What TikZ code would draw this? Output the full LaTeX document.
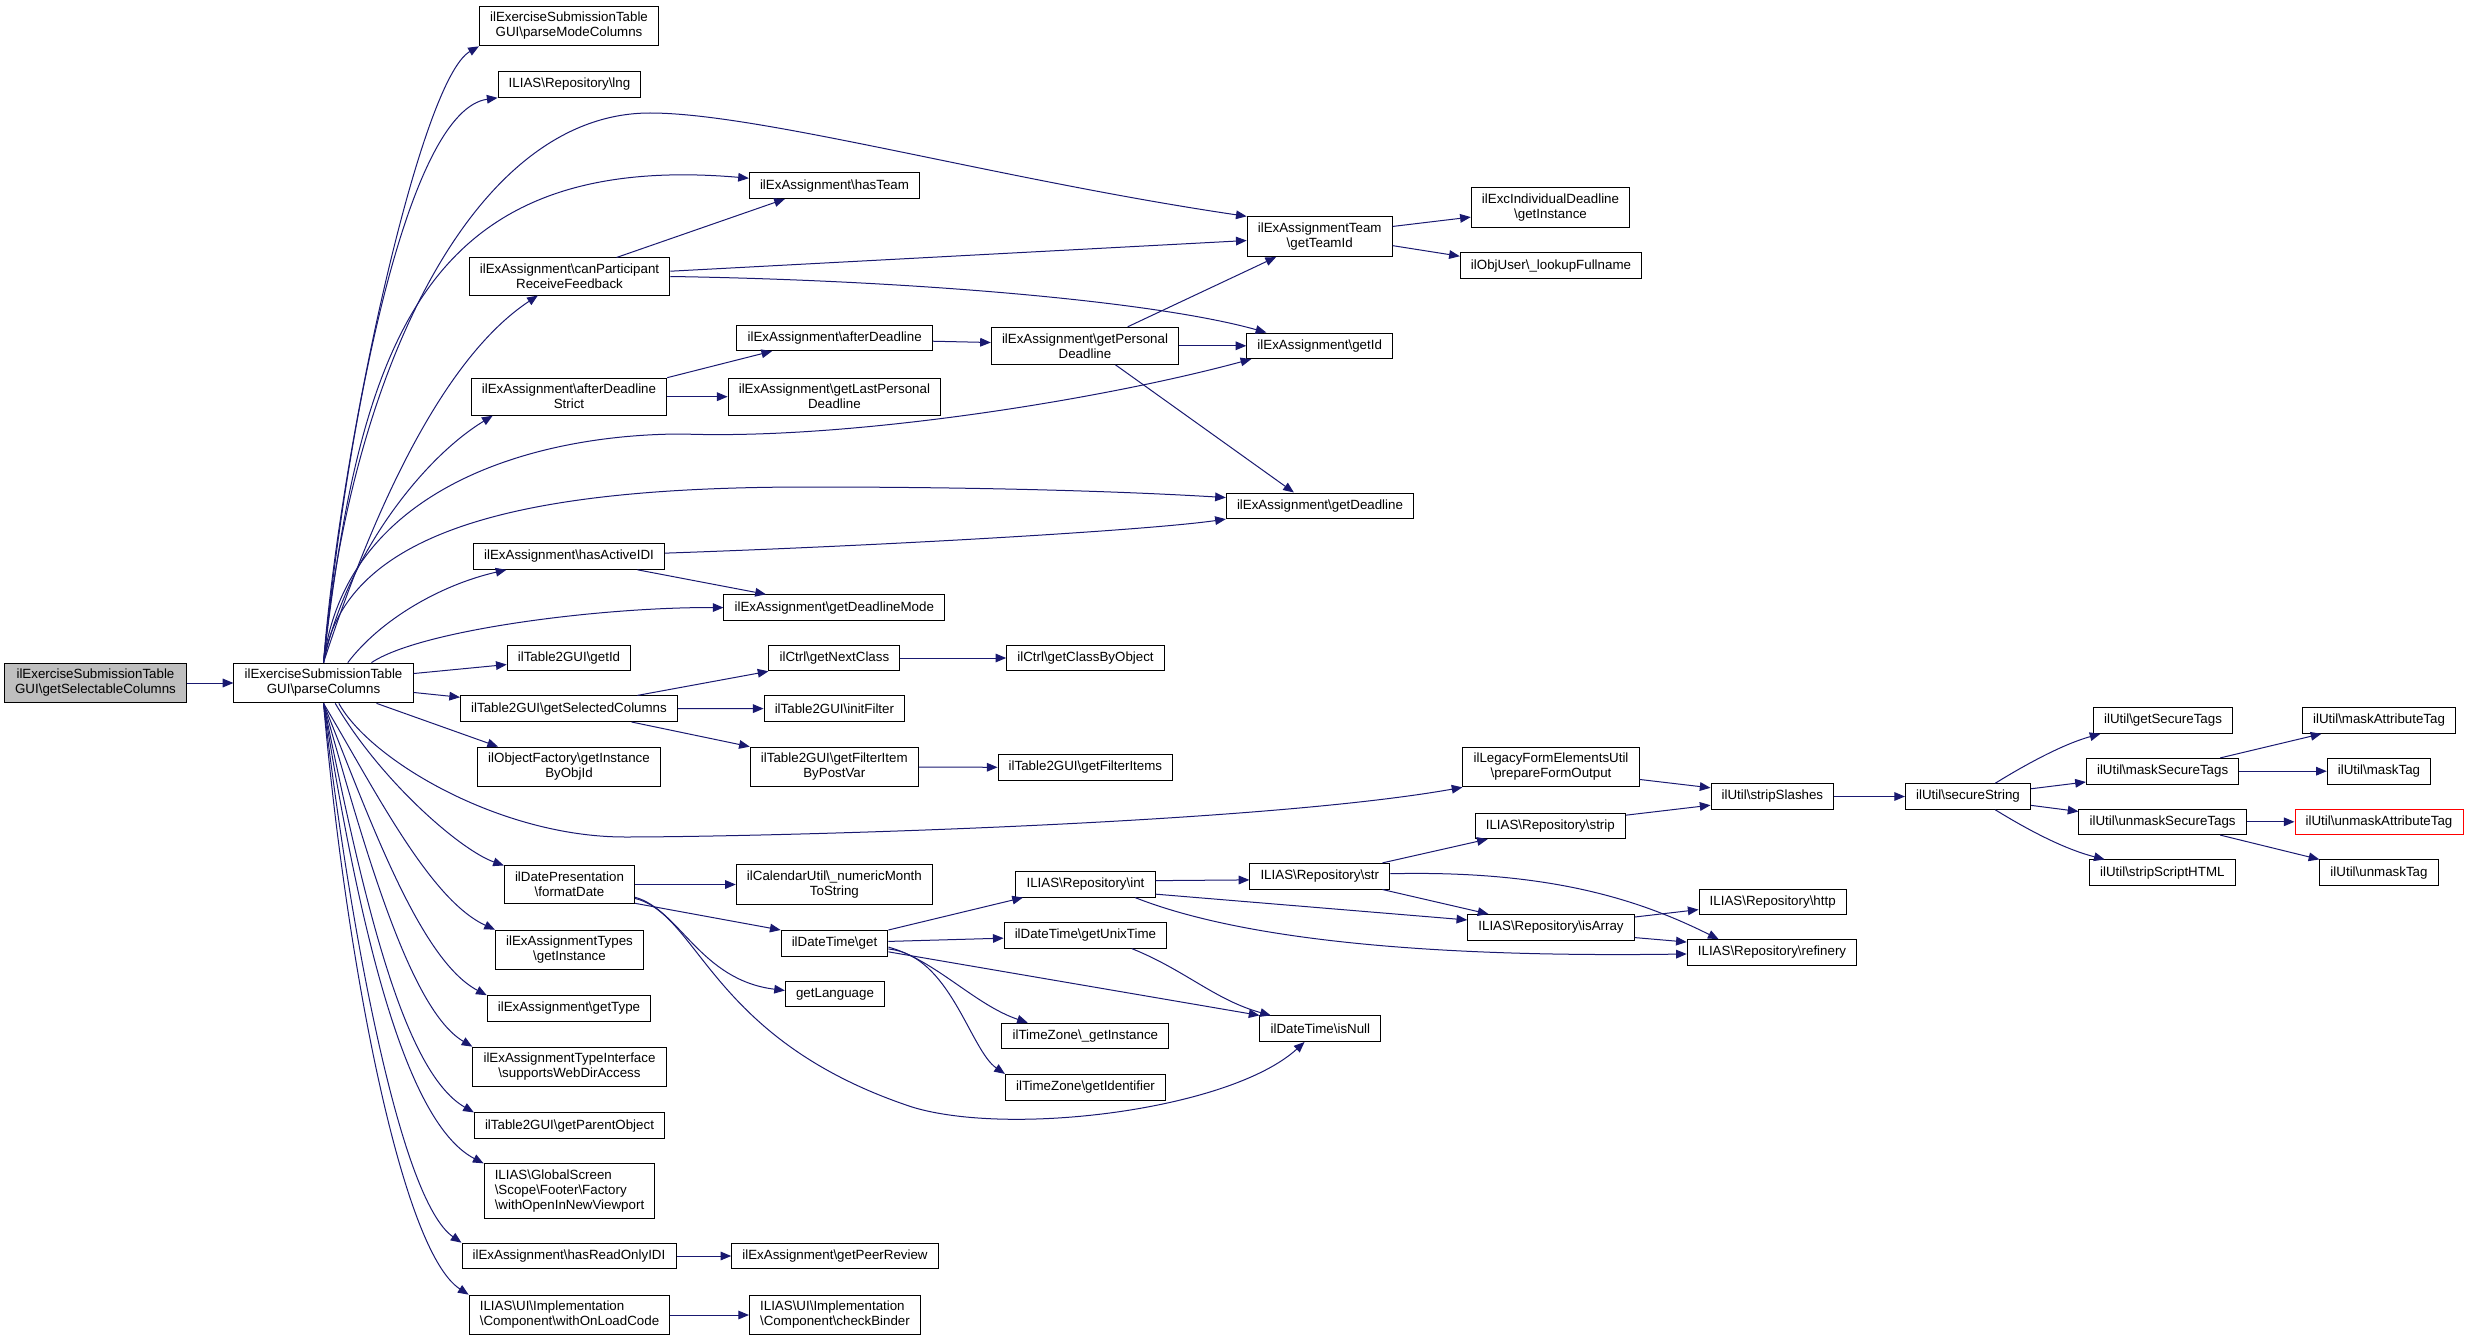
\documentclass[tikz,border=0pt]{standalone}
\usepackage{fontspec}
\setmainfont{Liberation Sans}
\usetikzlibrary{arrows.meta}
\definecolor{edgeblue}{HTML}{191970}
\newcommand{\bsl}{\textbackslash}

\begin{document}
\begin{tikzpicture}[x=0.75pt,y=-0.75pt,
  fn/.style={draw=black, line width=0.75pt, fill=white, inner xsep=8pt, inner ysep=4.6pt,
    minimum height=19.2pt, align=center, font=\fontsize{10}{11.25}\selectfont},
  call/.style={draw=edgeblue, line width=0.75pt, -{Triangle[length=8pt,width=6.5pt,fill=edgeblue]}}]

\useasboundingbox (0,0) rectangle (2469,1341);

% column 1 and 2
\node[fn, fill=black!25] (gsa) at (95.5,683) {ilExerciseSubmissionTable\\GUI\bsl getSelectableColumns};
\node[fn] (pc) at (323.5,683) {ilExerciseSubmissionTable\\GUI\bsl parseColumns};

% column 3
\node[fn] (pmc) at (569,26) {ilExerciseSubmissionTable\\GUI\bsl parseModeColumns};
\node[fn] (lng) at (569.5,84.5) {ILIAS\bsl Repository\bsl lng};
\node[fn] (cp) at (569.5,276.5) {ilExAssignment\bsl canParticipant\\ReceiveFeedback};
\node[fn] (ads) at (569,396.7) {ilExAssignment\bsl afterDeadline\\Strict};
\node[fn] (hai) at (569,556.5) {ilExAssignment\bsl hasActiveIDI};
\node[fn] (tgi) at (569,658) {ilTable2GUI\bsl getId};
\node[fn] (gsc) at (569,708.7) {ilTable2GUI\bsl getSelectedColumns};
\node[fn] (gio) at (569,767) {ilObjectFactory\bsl getInstance\\ByObjId};
\node[fn] (fd) at (569.5,884.5) {ilDatePresentation\\\bsl formatDate};
\node[fn] (eat) at (569.5,950) {ilExAssignmentTypes\\\bsl getInstance};
\node[fn] (gt) at (569,1008.5) {ilExAssignment\bsl getType};
\node[fn] (sw) at (569.5,1067) {ilExAssignmentTypeInterface\\\bsl supportsWebDirAccess};
\node[fn] (gpo) at (569.5,1125.7) {ilTable2GUI\bsl getParentObject};
\node[fn, align=left] (wov) at (569.5,1191.2) {ILIAS\bsl GlobalScreen\\\bsl Scope\bsl Footer\bsl Factory\\\bsl withOpenInNewViewport};
\node[fn] (hro) at (569,1256) {ilExAssignment\bsl hasReadOnlyIDI};
\node[fn, align=left] (wol) at (569.5,1315) {ILIAS\bsl UI\bsl Implementation\\\bsl Component\bsl withOnLoadCode};

% column 4
\node[fn] (ht) at (834.5,185.7) {ilExAssignment\bsl hasTeam};
\node[fn] (ad) at (834.7,337.8) {ilExAssignment\bsl afterDeadline};
\node[fn] (glp) at (834.4,396.7) {ilExAssignment\bsl getLastPersonal\\Deadline};
\node[fn] (gdm) at (834.3,607.6) {ilExAssignment\bsl getDeadlineMode};
\node[fn] (gnc) at (834.4,658) {ilCtrl\bsl getNextClass};
\node[fn] (ifl) at (834.4,708.6) {ilTable2GUI\bsl initFilter};
\node[fn] (gfp) at (834.3,767) {ilTable2GUI\bsl getFilterItem\\ByPostVar};
\node[fn] (nm) at (834.4,884.5) {ilCalendarUtil\bsl\_numericMonth\\ToString};
\node[fn] (dtg) at (834.5,943.3) {ilDateTime\bsl get};
\node[fn] (gl) at (835,994) {getLanguage};
\node[fn] (gpr) at (835,1256) {ilExAssignment\bsl getPeerReview};
\node[fn, align=left] (cb) at (835,1315) {ILIAS\bsl UI\bsl Implementation\\\bsl Component\bsl checkBinder};

% column 5
\node[fn] (gpd) at (1085,345.8) {ilExAssignment\bsl getPersonal\\Deadline};
\node[fn] (gco) at (1085.5,658) {ilCtrl\bsl getClassByObject};
\node[fn] (gfi) at (1085.4,767.3) {ilTable2GUI\bsl getFilterItems};
\node[fn] (rint) at (1085.5,884.3) {ILIAS\bsl Repository\bsl int};
\node[fn] (gut) at (1085.4,935.3) {ilDateTime\bsl getUnixTime};
\node[fn] (tzi) at (1085.4,1036) {ilTimeZone\bsl\_getInstance};
\node[fn] (tzid) at (1085.5,1087.2) {ilTimeZone\bsl getIdentifier};

% column 6
\node[fn] (gtid) at (1319.7,236.7) {ilExAssignmentTeam\\\bsl getTeamId};
\node[fn] (gid) at (1319.7,345.8) {ilExAssignment\bsl getId};
\node[fn] (gdl) at (1320,505.8) {ilExAssignment\bsl getDeadline};
\node[fn] (rstr) at (1319.8,876.2) {ILIAS\bsl Repository\bsl str};
\node[fn] (isn) at (1320.4,1028.7) {ilDateTime\bsl isNull};

% column 7 and 8
\node[fn] (eid) at (1550.5,207.3) {ilExcIndividualDeadline\\\bsl getInstance};
\node[fn] (lfn) at (1551,265.8) {ilObjUser\bsl\_lookupFullname};
\node[fn] (pfo) at (1551,767) {ilLegacyFormElementsUtil\\\bsl prepareFormOutput};
\node[fn] (st) at (1550.3,825.8) {ILIAS\bsl Repository\bsl strip};
\node[fn] (ia) at (1551,927.3) {ILIAS\bsl Repository\bsl isArray};
\node[fn] (ss) at (1772.4,796.5) {ilUtil\bsl stripSlashes};
\node[fn] (http) at (1772.7,901.8) {ILIAS\bsl Repository\bsl http};
\node[fn] (ref) at (1772,952.5) {ILIAS\bsl Repository\bsl refinery};

% columns 9 and 10
\node[fn] (sec) at (1968,796.5) {ilUtil\bsl secureString};
\node[fn] (gst) at (2163,720.5) {ilUtil\bsl getSecureTags};
\node[fn] (mst) at (2162.6,771.2) {ilUtil\bsl maskSecureTags};
\node[fn] (ust) at (2162.6,821.8) {ilUtil\bsl unmaskSecureTags};
\node[fn] (ssh) at (2162.3,872.7) {ilUtil\bsl stripScriptHTML};
\node[fn] (mat) at (2379,720.5) {ilUtil\bsl maskAttributeTag};
\node[fn] (mt) at (2379,771.2) {ilUtil\bsl maskTag};
\node[fn, draw=red] (uat) at (2379,821.8) {ilUtil\bsl unmaskAttributeTag};
\node[fn] (ut) at (2379,872.7) {ilUtil\bsl unmaskTag};

% straight calls
\foreach \a/\b in {gsa.east/pc.west, pc.6/tgi.186, pc.-6/gsc.174, pc.-21/gio.164,
  cp.22/ht.195, cp.3/gtid.183, gtid.8/eid.187, gtid.-7/lfn.174,
  ads.north east/ad.192, ads.east/glp.west, ad.-2/gpd.178, gpd.24/gtid.205,
  gpd.east/gid.west, gpd.-32/gdl.153, hai.-11/gdm.169,
  gsc.11/gnc.south west, gsc.east/ifl.west, gsc.-12/gfp.north west,
  gnc.east/gco.west, gfp.east/gfi.west, pfo.-8/ss.172, st.8/ss.188,
  ss.east/sec.west, sec.7/mst.188, sec.-8/ust.173, mst.13/mat.193,
  mst.east/mt.west, ust.east/uat.west, ust.-13/ut.north west,
  fd.east/nm.west, fd.-16/dtg.north west, dtg.north east/rint.192,
  dtg.2/gut.182, dtg.-9/isn.north west, rint.3/rstr.183, rint.-8/ia.175,
  rstr.12/st.192, rstr.-12/ia.168, ia.7/http.186, ia.-7/ref.173,
  hro.east/gpr.west, wol.east/cb.west}
  \draw[call] (\a) -- (\b);

% fan from parseColumns, upwards
\draw[call] (pc.north) .. controls (340,450) and (420,80) .. (pmc.south west);
\draw[call] (pc.north) .. controls (350,400) and (410,110) .. (lng.south west);
\draw[call] (pc.north) .. controls (350,380) and (470,113) .. (650,113)
  .. controls (760,113) and (1000,180) .. (gtid.north west);
\draw[call] (pc.north) .. controls (360,350) and (420,150) .. (ht.175);
\draw[call] (pc.north) .. controls (370,520) and (440,360) .. (cp.211);
\draw[call] (pc.north) .. controls (345,560) and (420,460) .. (ads.194);
\draw[call] (pc.north) .. controls (345,490) and (530,434) .. (683,434)
  .. controls (850,440) and (1100,400) .. (gid.191);
\draw[call] (pc.north) .. controls (345,520) and (550,487) .. (810,487)
  .. controls (950,487) and (1100,490) .. (gdl.175);
\draw[call] (pc.40) .. controls (380,620) and (440,585) .. (hai.192);
\draw[call] (pc.23) .. controls (420,630) and (600,607) .. (gdm.west);

% fan from parseColumns, downwards
\draw[call] (pc.-53) .. controls (370,760) and (500,837) .. (625,837)
  .. controls (750,837) and (1250,825) .. (pfo.south west);
\draw[call] (pc.-60) .. controls (380,780) and (460,850) .. (fd.north west);
\draw[call] (pc.south) .. controls (375,790) and (430,900) .. (eat.north west);
\draw[call] (pc.south) .. controls (370,820) and (420,960) .. (gt.north west);
\draw[call] (pc.south) .. controls (365,850) and (410,1010) .. (sw.north west);
\draw[call] (pc.south) .. controls (360,880) and (400,1070) .. (gpo.north west);
\draw[call] (pc.south) .. controls (355,900) and (400,1120) .. (wov.north west);
\draw[call] (pc.south) .. controls (350,930) and (400,1200) .. (hro.north west);
\draw[call] (pc.south) .. controls (345,950) and (400,1250) .. (wol.north west);

% other curved calls
\draw[call] (cp.east) .. controls (900,280) and (1150,300) .. (gid.166);
\draw[call] (hai.2) .. controls (900,545) and (1150,530) .. (gdl.south west);
\draw[call] (sec.26) .. controls (2020,768) and (2060,745) .. (gst.192);
\draw[call] (sec.-26) .. controls (2020,825) and (2060,848) .. (ssh.167);
\draw[call] (fd.-11) .. controls (680,910) and (700,980) .. (gl.176);
\draw[call] (fd.-12) .. controls (700,915) and (710,1040) .. (912,1107)
  .. controls (1010,1137) and (1230,1110) .. (isn.220);
\draw[call] (dtg.-4) .. controls (935,960) and (975,1005) .. (tzi.167);
\draw[call] (dtg.-6) .. controls (950,955) and (970,1050) .. (tzid.north west);
\draw[call] (gut.-16) .. controls (1185,970) and (1215,1000) .. (isn.165);
\draw[call] (rint.-15) .. controls (1230,935) and (1400,958) .. (ref.181);
\draw[call] (rstr.2) .. controls (1550,870) and (1640,900) .. (ref.166);

\end{tikzpicture}
\end{document}
